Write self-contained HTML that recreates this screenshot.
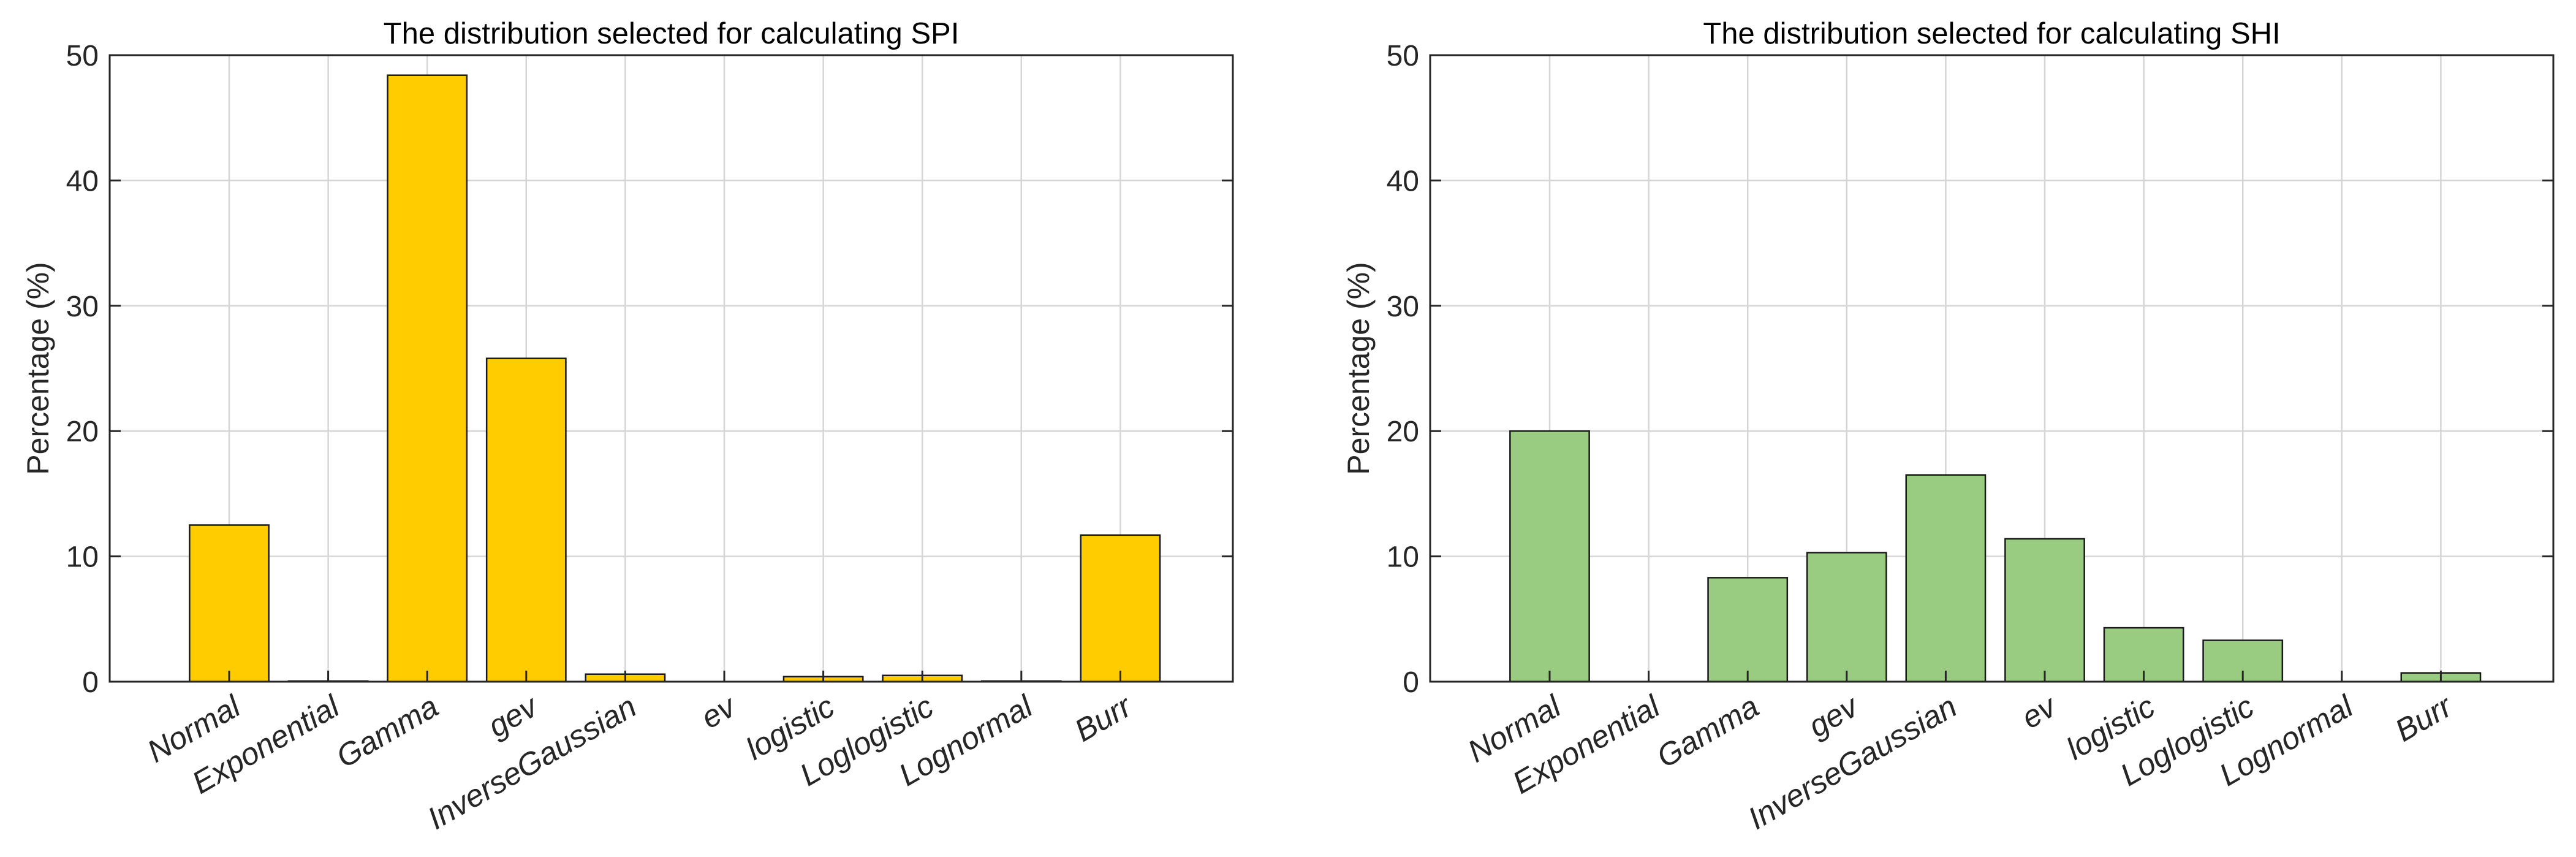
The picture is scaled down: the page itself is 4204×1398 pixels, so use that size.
<!DOCTYPE html>
<html><head><meta charset="utf-8"><style>
html,body{margin:0;padding:0;background:#fff;}
svg{display:block;font-family:"Liberation Sans",Arial,sans-serif;}
</style></head><body>
<svg id="fig" width="4204" height="1398" viewBox="0 0 4204 1398" xmlns="http://www.w3.org/2000/svg"></svg>
<script>
const categories = ["Normal","Exponential","Gamma","gev","InverseGaussian","ev","logistic","Loglogistic","Lognormal","Burr"];
const spiValues = [12.5,0.05,48.4,25.8,0.6,0,0.4,0.5,0.05,11.7];
const shiValues = [20.0,0,8.3,10.3,16.5,11.4,4.3,3.3,0,0.7];
const yTicks = [0,10,20,30,40,50];
const titles = ["The distribution selected for calculating SPI","The distribution selected for calculating SHI"];

const NS = "http://www.w3.org/2000/svg";
const svg = document.getElementById("fig");
function mk(tag, attrs, parent){
  const e = document.createElementNS(NS, tag);
  for (const k in attrs) e.setAttribute(k, attrs[k]);
  (parent||svg).appendChild(e);
  return e;
}
function drawPanel(left, values, title, fill, key){
  const right = left + 1833, top = 90, bottom = 1112;
  const unit = 161.6, first = left + 195;
  const yScale = v => bottom - (v/50)*(bottom-top);
  const xScale = i => first + i*unit;
  const g = mk("g", {});
  
  
  yTicks.forEach(t => {
    const l = mk("line",{x1:left,x2:right,y1:yScale(t),y2:yScale(t),stroke:"#d6d6d6","stroke-width":2.5},g);
    
    
  });
  categories.forEach((c,i) => {
    const l = mk("line",{x1:xScale(i),x2:xScale(i),y1:top,y2:bottom,stroke:"#d6d6d6","stroke-width":2.5},g);
    
    
  });
  values.forEach((v,i) => {
    const bw = 0.8*unit;
    const y = yScale(v);
    const r = mk("rect",{x:xScale(i)-bw/2,y:y,width:bw,height:Math.max(bottom-y,0.01),fill:fill,stroke:"#1a1a1a","stroke-width":2.5},g);
    
    
  });
  yTicks.forEach(t => {
    mk("line",{x1:left,x2:left+18,y1:yScale(t),y2:yScale(t),stroke:"#262626","stroke-width":3},g);
    mk("line",{x1:right-18,x2:right,y1:yScale(t),y2:yScale(t),stroke:"#262626","stroke-width":3},g);
    const tx = mk("text",{x:left-18,y:yScale(t)+17,"text-anchor":"end","font-size":48,fill:"#262626"},g);
    tx.textContent = t;
    
    
  });
  categories.forEach((c,i) => {
    mk("line",{x1:xScale(i),x2:xScale(i),y1:bottom-18,y2:bottom,stroke:"#262626","stroke-width":3},g);
    const x = xScale(i)+22, y = 1163;
    const tx = mk("text",{x:x,y:y,"text-anchor":"end","font-size":51,"font-style":"italic",fill:"#262626",transform:"rotate(-30 "+x+" "+y+")"},g);
    tx.textContent = c;
    
    
  });
  const b = mk("rect",{x:left,y:top,width:right-left,height:bottom-top,fill:"none",stroke:"#262626","stroke-width":3},g);
  
  
  const tt = mk("text",{x:(left+right)/2,y:71,"text-anchor":"middle","font-size":49,fill:"#000"},g);
  tt.textContent = title;
  
  
  const yl = mk("text",{x:0,y:0,"text-anchor":"middle","font-size":50,fill:"#262626",transform:"translate("+(left-100)+" "+((top+bottom)/2)+") rotate(-90)"},g);
  yl.textContent = "Percentage (%)";
  
  
}
drawPanel(179, spiValues, titles[0], "#FFCC00", "spi");
drawPanel(2334, shiValues, titles[1], "#99CC80", "shi");
</script>
</body></html>
